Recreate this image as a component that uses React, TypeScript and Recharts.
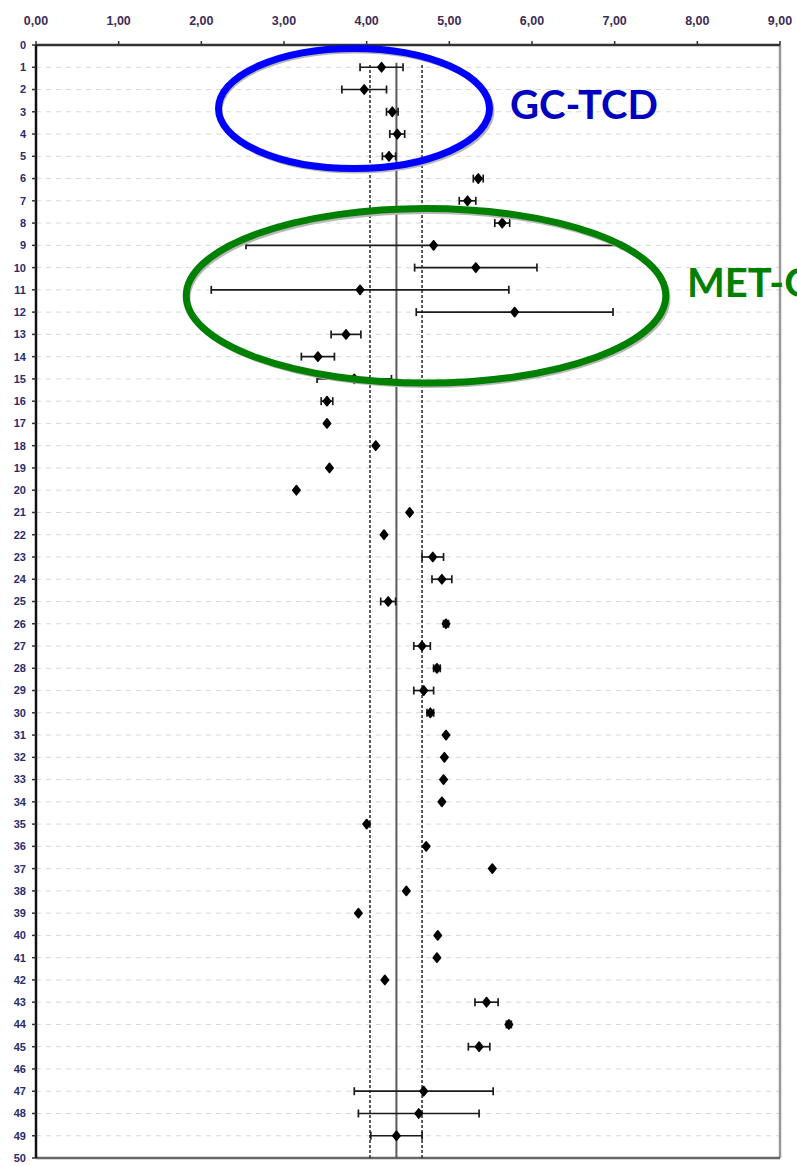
import React from 'react';
import { ScatterChart, Scatter, XAxis, YAxis, CartesianGrid, ReferenceLine, ErrorBar } from 'recharts';

// lab number (row), reported mean, half width of the uncertainty
const labs = [1, 2, 3, 4, 5, 6, 7, 8, 9, 10, 11, 12, 13, 14, 15, 16, 17, 18, 19, 20, 21, 22, 23, 24, 25, 26, 27, 28, 29, 30, 31, 32, 33, 34, 35, 36, 37, 38, 39, 40, 41, 42, 43, 44, 45, 47, 48, 49];
const means = [4.18, 3.97, 4.31, 4.37, 4.27, 5.35, 5.22, 5.64, 4.81, 5.32, 3.92, 5.79, 3.75, 3.41, 3.85, 3.52, 3.52, 4.11, 3.55, 3.15, 4.52, 4.21, 4.8, 4.91, 4.26, 4.96, 4.67, 4.85, 4.69, 4.77, 4.96, 4.94, 4.93, 4.91, 4.0, 4.72, 5.52, 4.48, 3.9, 4.86, 4.85, 4.22, 5.45, 5.72, 5.36, 4.69, 4.63, 4.36];
const errs = [0.26, 0.27, 0.07, 0.09, 0.08, 0.06, 0.1, 0.09, 2.27, 0.74, 1.8, 1.19, 0.18, 0.2, 0.45, 0.07, 0, 0, 0, 0, 0, 0, 0.13, 0.12, 0.09, 0.03, 0.1, 0.04, 0.12, 0.04, 0, 0, 0, 0, 0, 0, 0, 0, 0, 0, 0, 0, 0.14, 0.03, 0.13, 0.84, 0.73, 0.31];

const xTicks = [0, 1, 2, 3, 4, 5, 6, 7, 8, 9];
const yTicks = Array.from({ length: 51 }, (_, i) => i);

// assigned value and its limits
const refMean = 4.36;
const refLow = 4.04;
const refHigh = 4.67;

const data = labs.map((lab, i) => ({ lab, mean: means[i], err: errs[i] }));

const Diamond = (props: any) => {
  const { cx, cy } = props;
  if (cx == null || cy == null) return null;
  return (
    <path
      d={`M${cx},${cy - 4.6} L${cx + 3.7},${cy} L${cx},${cy + 4.6} L${cx - 3.7},${cy} Z`}
      fill="#000"
      stroke="#000"
      strokeWidth={1.6}
      strokeLinejoin="round"
    />
  );
};

const App: React.FC = () => {
  return (
    <div style={{ position: 'absolute', left: 0, top: 0, width: 797, height: 1166, overflow: 'hidden', background: '#fff' }}>
      <ScatterChart width={797} height={1166} margin={{ top: 15, right: 17, bottom: 8, left: 6 }}>
        <CartesianGrid vertical={false} stroke="#d8d8d8" strokeDasharray="5 5" />
        <XAxis
          type="number"
          dataKey="mean"
          orientation="top"
          domain={[0, 9]}
          ticks={xTicks}
          interval={0}
          height={30}
          tickSize={4}
          tickMargin={16}
          tickFormatter={(v: number) => v.toFixed(2).replace('.', ',')}
          tick={{ fontSize: 12.5, fontWeight: 'bold', fill: '#3d2b55', fontFamily: 'Liberation Sans, Arial, sans-serif' }}
          axisLine={{ stroke: '#333', strokeWidth: 2.5 }}
          tickLine={{ stroke: '#333', strokeWidth: 1.5 }}
        />
        <YAxis
          type="number"
          dataKey="lab"
          reversed
          domain={[0, 50]}
          ticks={yTicks}
          interval={0}
          width={30}
          tickSize={4}
          tickMargin={6}
          tick={{ fontSize: 11, fontWeight: 'bold', fill: '#2b2b6a', fontFamily: 'Liberation Sans, Arial, sans-serif' }}
          axisLine={{ stroke: '#111', strokeWidth: 2.5 }}
          tickLine={{ stroke: '#333', strokeWidth: 1.5 }}
        />
        <ReferenceLine x={9} stroke="#999" strokeWidth={2.5} />
        <ReferenceLine y={50} stroke="#666" strokeWidth={2.5} />
        <ReferenceLine segment={[{ x: refMean, y: 0.8 }, { x: refMean, y: 50 }]} stroke="#5a5a5a" strokeWidth={2} />
        <ReferenceLine segment={[{ x: refLow, y: 0.9 }, { x: refLow, y: 50 }]} stroke="#333" strokeWidth={1.6} strokeDasharray="3 2" />
        <ReferenceLine segment={[{ x: refHigh, y: 0.9 }, { x: refHigh, y: 50 }]} stroke="#333" strokeWidth={1.6} strokeDasharray="3 2" />
        <Scatter data={data} shape={Diamond} isAnimationActive={false}>
          <ErrorBar dataKey="err" direction="x" width={4} stroke="#1a1a1a" strokeWidth={1.7} />
        </Scatter>
      </ScatterChart>
      <svg width={797} height={1166} style={{ position: 'absolute', left: 0, top: 0, pointerEvents: 'none' }}>
        <ellipse cx={356} cy={111} rx={136} ry={60} fill="none" stroke="#b8b8b8" strokeWidth={5} />
        <ellipse cx={354} cy={108.5} rx={135.5} ry={60} fill="none" stroke="#0000ff" strokeWidth={7} />
        <ellipse cx={428} cy={298.5} rx={240} ry={87} fill="none" stroke="#b8b8b8" strokeWidth={5} />
        <ellipse cx={426} cy={295.8} rx={239.8} ry={87.3} fill="none" stroke="#008000" strokeWidth={7} />
        <text x={510} y={119} fontSize={40} fontWeight="bold" fill="#0000c0" fontFamily="Lato, 'Open Sans', sans-serif">
          GC-TCD
        </text>
        <text x={687} y={297} fontSize={40} fontWeight="bold" fill="#008000" fontFamily="Lato, 'Open Sans', sans-serif">
          MET-GC
        </text>
      </svg>
    </div>
  );
};

export default App;
